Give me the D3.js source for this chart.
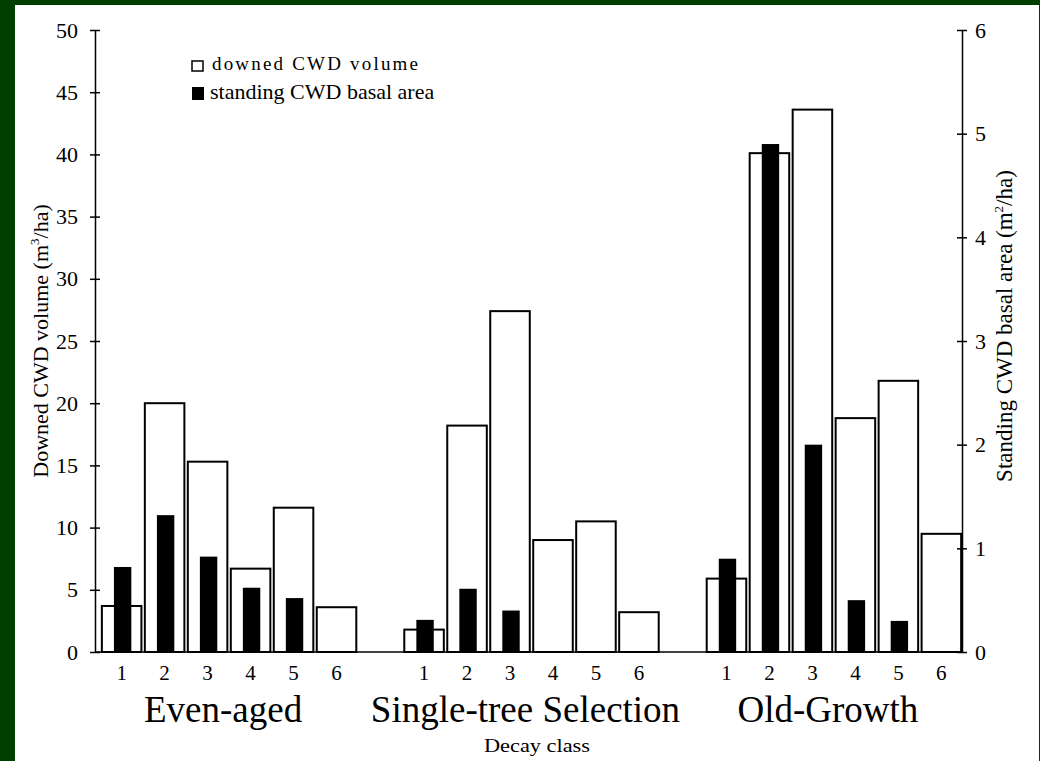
<!DOCTYPE html>
<html>
<head>
<meta charset="utf-8">
<script src="https://cdn.jsdelivr.net/npm/d3@7"></script>
<style>
	body { margin:0; padding:0; background:#003f00; }
	svg { display:block; }
	.st-text { font-family:"Liberation Serif", "Times New Roman", serif; fill:#000; }
	.chart-axis { stroke:#000; stroke-width:1.5; fill:none; }
</style>
</head>
<body>
<svg class="cwd" width="1040" height="761"></svg>
<script>
// values
var groups = ['Even-aged', 'Single-tree Selection', 'Old-Growth'];
var decayClasses = ['1', '2', '3', '4', '5', '6'];

// downed CWD volume (m3/ha), left axis
var downedEven   = [3.7, 20.0, 15.3, 6.7, 11.6, 3.6];
var downedSingle = [1.8, 18.2, 27.4, 9.0, 10.5, 3.2];
var downedOld    = [5.9, 40.1, 43.6, 18.8, 21.8, 9.5];

// standing CWD basal area (m2/ha), right axis
var standingEven   = [0.82, 1.32, 0.92, 0.62, 0.52, 0];
var standingSingle = [0.31, 0.61, 0.40, 0, 0, 0];
var standingOld    = [0.90, 4.90, 2.00, 0.50, 0.30, 0];

var leftTicks  = [0, 5, 10, 15, 20, 25, 30, 35, 40, 45, 50];
var rightTicks = [0, 1, 2, 3, 4, 5, 6];

(function(){
	var svg = d3.select('.cwd');
	var W = 1040, H = 761;

	var axisLeftX = 95;
	var axisRightX = 962;
	var yTop = 30, yBase = 652;

	var downed = [downedEven, downedSingle, downedOld];
	var standing = [standingEven, standingSingle, standingOld];

	// frame: green border with white page
	svg.append('rect').attr('width', W).attr('height', H).attr('fill', '#003f00');
	svg.append('rect')
	   .attr('x', 15).attr('y', 5)
	   .attr('width', 1024).attr('height', 756)
	   .attr('fill', '#fff');

	var yLeft = d3.scaleLinear().domain([0, 50]).range([yBase, yTop]);
	var yRight = d3.scaleLinear().domain([0, 6]).range([yBase, yTop]);

	var xGroup = d3.scaleBand()
	               .domain(groups)
	               .range([101, axisRightX])
	               .paddingInner(0.153)
	               .paddingOuter(0);

	var xClass = d3.scaleBand()
	               .domain(decayClasses)
	               .range([0, xGroup.bandwidth()])
	               .paddingInner(0.08)
	               .paddingOuter(0.02);

	var blackW = xClass.bandwidth() * 0.44;

	// bars
	var gBars = svg.append('g').attr('class', 'st-bars');
	groups.forEach(function(grp, gi){
		var gx = xGroup(grp);
		decayClasses.forEach(function(dc, ci){
			var x = gx + xClass(dc);
			var v = downed[gi][ci];
			gBars.append('rect')
			     .attr('x', x)
			     .attr('y', yLeft(v))
			     .attr('width', xClass.bandwidth())
			     .attr('height', yBase - yLeft(v))
			     .attr('fill', '#fff')
			     .attr('stroke', '#000')
			     .attr('stroke-width', 2);
		});
		decayClasses.forEach(function(dc, ci){
			var s = standing[gi][ci];
			if(s <= 0) return;
			var x = gx + xClass(dc) + (xClass.bandwidth() - blackW)/2 + 1;
			gBars.append('rect')
			     .attr('x', x)
			     .attr('y', yRight(s))
			     .attr('width', blackW)
			     .attr('height', yBase - yRight(s))
			     .attr('fill', '#000');
		});
	});

	// baseline
	svg.append('line')
	   .attr('x1', axisLeftX).attr('y1', yBase)
	   .attr('x2', axisRightX).attr('y2', yBase)
	   .attr('class', 'chart-axis');

	// left axis
	var gL = svg.append('g')
	            .attr('transform', 'translate(' + axisLeftX + ',0)')
	            .call(d3.axisLeft(yLeft).tickValues(leftTicks).tickFormat(d3.format('d'))
	                    .tickSizeInner(5).tickSizeOuter(0).tickPadding(12));
	gL.select('.domain').attr('class', 'chart-axis');
	gL.selectAll('.tick line').attr('x1', -5).attr('x2', 5).attr('stroke-width', 1.5);
	gL.selectAll('.tick text').attr('class', 'st-text').style('font-size', '22px');

	// right axis
	var gR = svg.append('g')
	            .attr('transform', 'translate(' + axisRightX + ',0)')
	            .call(d3.axisRight(yRight).tickValues(rightTicks).tickFormat(d3.format('d'))
	                    .tickSizeInner(5).tickSizeOuter(0).tickPadding(8));
	gR.select('.domain').attr('class', 'chart-axis');
	gR.selectAll('.tick line').attr('x1', -5).attr('x2', 5).attr('stroke-width', 1.5);
	gR.selectAll('.tick text').attr('class', 'st-text').style('font-size', '22px');

	// decay class numbers under each bar, then the group names
	groups.forEach(function(grp){
		var gx = xGroup(grp);
		decayClasses.forEach(function(dc){
			svg.append('text')
			   .attr('class', 'st-text')
			   .attr('x', gx + xClass(dc) + xClass.bandwidth()/2)
			   .attr('y', 680)
			   .attr('text-anchor', 'middle')
			   .style('font-size', '21px')
			   .text(dc);
		});
		svg.append('text')
		   .attr('class', 'st-text')
		   .attr('x', gx + xGroup.bandwidth()/2 - 6)
		   .attr('y', 722)
		   .attr('text-anchor', 'middle')
		   .style('font-size', '37px')
		   .text(grp);
	});

	svg.append('text')
	   .attr('class', 'st-text')
	   .attr('x', 537)
	   .attr('y', 752)
	   .attr('text-anchor', 'middle')
	   .style('font-size', '19px')
	   .attr('textLength', 106)
	   .attr('lengthAdjust', 'spacingAndGlyphs')
	   .text('Decay class');

	// axis titles
	var tL = svg.append('text')
	            .attr('class', 'st-text')
	            .attr('transform', 'translate(48,341) rotate(-90)')
	            .attr('text-anchor', 'middle')
	            .style('font-size', '22px');
	tL.append('tspan').text('Downed CWD volume (m');
	tL.append('tspan').attr('dy', -9).style('font-size', '13px').text('3');
	tL.append('tspan').attr('dy', 9).text('/ha)');

	var tR = svg.append('text')
	            .attr('class', 'st-text')
	            .attr('transform', 'translate(1012,326) rotate(-90)')
	            .attr('text-anchor', 'middle')
	            .style('font-size', '23px');
	tR.append('tspan').text('Standing CWD basal area (m');
	tR.append('tspan').attr('dy', -9).style('font-size', '13px').text('2');
	tR.append('tspan').attr('dy', 9).text('/ha)');

	// legend
	var legend = svg.append('g').attr('class', 'st-legend');
	legend.append('rect')
	      .attr('x', 192).attr('y', 61).attr('width', 11).attr('height', 10)
	      .attr('fill', '#fff').attr('stroke', '#000').attr('stroke-width', 1.5);
	legend.append('text')
	      .attr('class', 'st-text')
	      .attr('x', 212).attr('y', 70)
	      .style('font-size', '19px')
	      .attr('textLength', 206)
	      .attr('lengthAdjust', 'spacing')
	      .text('downed CWD volume');
	legend.append('rect')
	      .attr('x', 192).attr('y', 87).attr('width', 12).attr('height', 13)
	      .attr('fill', '#000');
	legend.append('text')
	      .attr('class', 'st-text')
	      .attr('x', 210).attr('y', 99)
	      .style('font-size', '22px')
	      .text('standing CWD basal area');
})();
</script>
</body>
</html>
